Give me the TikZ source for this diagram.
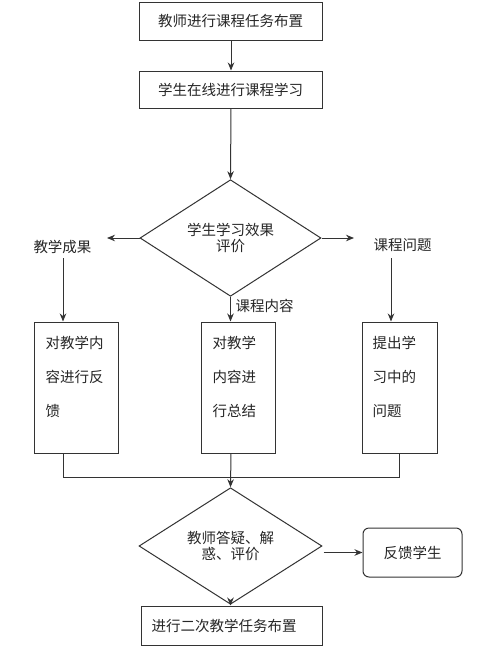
\documentclass[tikz,border=0pt]{standalone}
\usepackage{fontspec}
\newfontfamily\cjk{Noto Sans CJK SC}
\usetikzlibrary{shapes.geometric,arrows.meta,calc}
\begin{document}
\begin{tikzpicture}[x=1pt,y=-1pt,
  line width=1pt,
  every node/.style={font=\cjk\fontsize{14.5}{16}\selectfont, text=black!85},
  box/.style={draw=black!80, rectangle, inner sep=0pt},
  tallbox/.style={draw=black!80, rectangle, inner sep=0pt, minimum height=131pt},
  dia/.style={draw=black!80, diamond, inner sep=0pt, align=center},
  rbox/.style={draw=black!80, rectangle, rounded corners=6pt, inner sep=0pt},
  lbl/.style={inner sep=0pt},
  boxtext/.style={inner sep=0pt, anchor=north west, align=left, font=\cjk\fontsize{14.5}{34}\selectfont},
  arr/.style={draw=black!80, -{Stealth[length=8pt,width=6.5pt]}},
  ln/.style={draw=black!80}]
\fill[white] (0,0) rectangle (491,651);
\useasboundingbox (0,0) rectangle (491,651);

\node[box, minimum width=183pt, minimum height=38pt] (a1) at (230.5,21) {教师进行课程任务布置};
\node[box, minimum width=183pt, minimum height=37pt] (a2) at (230.5,89.5) {学生在线进行课程学习};
\node[dia, minimum width=181pt, minimum height=90pt] (d1) at (230.5,238) {学生学习效果\\评价};

\node[lbl] (l1) at (62.5,247) {教学成果};
\node[lbl] (l3) at (402.5,245) {课程问题};
\node[lbl, anchor=west] (l2) at (235,306) {课程内容};

\node[tallbox, minimum width=84pt] (b1) at (76,387.5) {};
\node[tallbox, minimum width=74pt] (b2) at (238,387.5) {};
\node[tallbox, minimum width=75pt] (b3) at (399.5,387.5) {};
\node[boxtext] (t1) at (45,336) {对教学内\\容进行反\\馈};
\node[boxtext] (t2) at (212,336) {对教学\\内容进\\行总结};
\node[boxtext] (t3) at (372,336) {提出学\\习中的\\问题};

\node[dia, minimum width=183pt, minimum height=78pt] (d2) at (230.5,546) {教师答疑、解\\惑、评价};
\node[rbox, minimum width=99pt, minimum height=49pt] (fb) at (412.5,552.5) {反馈学生};
\node[box, minimum height=39pt, text width=160pt, inner xsep=10.5pt, align=left] (a3) at (231.5,625.5) {进行二次教学任务布置};

\coordinate (p1) at (107,238);
\coordinate (p3) at (354,238);
\coordinate (q1) at (63,258);
\coordinate (q3) at (391,258);
\coordinate (j) at (231,477);

\draw[arr] (a1.south -| 231,0) -- (a2.north -| 231,0);
\draw[arr] (a2.south -| 231,0) -- (d1.north);
\draw[arr] (d1.west) -- (p1);
\draw[arr] (d1.east) -- (p3);
\draw[arr] (q1) -- (q1 |- b1.north);
\draw[arr] (q3) -- (q3 |- b3.north);
\draw[arr] (d1.south) -- (d1.south |- b2.north);

\draw[ln] (b1.south -| q1) |- (j);
\draw[ln] (b3.south -| 399,0) |- (j);
\draw[arr] (b2.south -| j) -- (d2.north);
\draw[arr] (d2.east |- fb.west) ++(1,0) -- (fb.west);
\draw[arr] (d2.south) -- (d2.south |- a3.north);
\end{tikzpicture}
\end{document}
